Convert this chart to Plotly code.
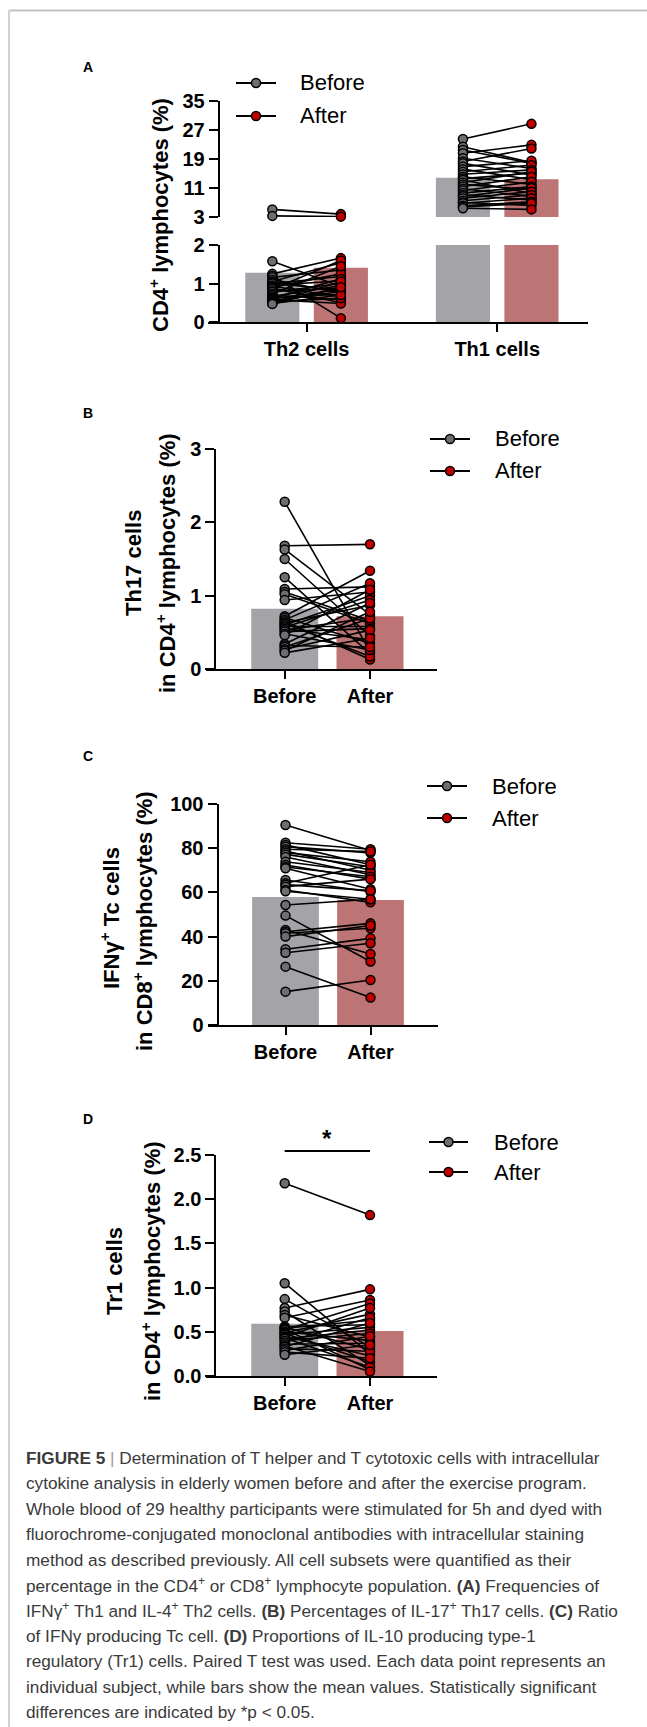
import plotly.graph_objects as go

W, H = 647, 1727


def fx(p):
    return p / W


def fy(p):
    return 1 - p / H


FONT = "Liberation Sans, Arial, sans-serif"
GRAY_BAR = "#a4a3a8"
RED_BAR = "#bc7474"
GRAY_PT = "#6e6e6e"
RED_PT = "#c00000"

# ---------------- data ----------------
# Panel A (Th2 / Th1, % of CD4+ lymphocytes)
cats_A = ["Th2 cells", "Th1 cells"]
mean_before_A = [1.28, 13.8]
mean_after_A = [1.41, 13.4]
th2_before = [1.58, 1.25, 1.20, 1.16, 1.10, 1.05, 1.02, 1.00, 0.95, 0.93, 0.90, 0.88, 0.85, 0.80,
              0.78, 0.73, 0.70, 0.66, 0.63, 0.62, 0.60, 0.58, 0.55, 0.52, 0.50, 0.48, 0.47, 5.1, 3.3]
th2_after = [0.92, 1.66, 0.10, 1.35, 0.75, 1.54, 0.80, 1.18, 1.07, 0.66, 1.25, 0.50, 1.60, 0.88,
             1.00, 1.45, 0.58, 0.95, 0.72, 1.12, 0.85, 0.48, 0.79, 0.62, 1.05, 0.70, 0.90, 3.8, 3.1]
th1_before = [24.5, 22.4, 21.5, 20.6, 19.2, 18.3, 17.8, 16.9, 16.2, 15.5, 14.8, 14.1, 13.6, 13.2, 12.5,
              12.0, 11.4, 10.8, 10.3, 9.6, 9.1, 8.7, 8.2, 7.5, 7.0, 6.8, 6.1, 5.8, 5.4]
th1_after = [28.7, 18.0, 17.8, 22.9, 16.4, 21.9, 14.6, 18.5, 13.3, 17.3, 16.0, 12.0, 15.1, 9.5, 15.5,
             10.6, 14.1, 8.7, 12.7, 11.4, 7.7, 11.0, 10.0, 9.1, 6.2, 8.2, 7.2, 6.8, 5.1]

# Panel B (Th17)
mean_B = [0.82, 0.72]
th17_before = [2.28, 1.68, 1.63, 1.50, 1.25, 1.09, 1.05, 1.02, 0.94, 0.72, 0.70, 0.67, 0.65, 0.63, 0.62,
               0.60, 0.58, 0.57, 0.55, 0.53, 0.51, 0.48, 0.46, 0.34, 0.32, 0.30, 0.27, 0.25, 0.22]
th17_after = [0.24, 1.70, 0.74, 0.45, 0.21, 1.12, 0.66, 0.62, 1.05, 1.34, 0.35, 1.17, 0.13, 0.87, 0.17,
              1.00, 0.58, 0.94, 0.40, 0.70, 0.55, 0.26, 1.08, 0.90, 0.30, 0.69, 0.53, 0.78, 0.42]

# Panel C (IFNγ+ Tc)
mean_C = [57.9, 56.6]
tc_before = [90.5, 82.5, 81.5, 80.7, 79.5, 78.7, 78.0, 77.2, 76.0, 73.9, 72.4, 71.5, 70.9, 65.6, 64.1,
             63.5, 62.6, 61.1, 60.5, 54.3, 49.5, 43.0, 42.2, 41.5, 40.0, 34.3, 32.7, 26.4, 15.1]
tc_after = [79.0, 79.5, 72.5, 77.9, 78.5, 70.0, 73.9, 71.6, 68.0, 69.0, 66.0, 67.1, 61.4, 60.3, 72.5,
            60.8, 66.0, 55.5, 56.9, 56.9, 28.7, 32.1, 46.0, 43.8, 45.0, 39.2, 37.0, 12.4, 20.4]

# Panel D (Tr1)
mean_D = [0.59, 0.51]
tr1_before = [2.18, 1.05, 0.87, 0.77, 0.73, 0.69, 0.66, 0.56, 0.55, 0.54, 0.53, 0.52, 0.50, 0.49, 0.48,
              0.47, 0.45, 0.44, 0.43, 0.42, 0.40, 0.38, 0.36, 0.34, 0.33, 0.31, 0.29, 0.27, 0.24]
tr1_after = [1.82, 0.25, 0.33, 0.98, 0.12, 0.44, 0.86, 0.58, 0.30, 0.63, 0.07, 0.82, 0.40, 0.70, 0.16,
             0.55, 0.23, 0.77, 0.10, 0.52, 0.48, 0.66, 0.37, 0.05, 0.60, 0.28, 0.45, 0.20, 0.35]

groups = ["Before", "After"]

caption_lines = [
    "<b>FIGURE 5</b> <span style='color:#9a9a9a'>|</span> Determination of T helper and T cytotoxic cells with intracellular",
    "cytokine analysis in elderly women before and after the exercise program.",
    "Whole blood of 29 healthy participants were stimulated for 5h and dyed with",
    "fluorochrome-conjugated monoclonal antibodies with intracellular staining",
    "method as described previously. All cell subsets were quantified as their",
    "percentage in the CD4<sup>+</sup> or CD8<sup>+</sup> lymphocyte population. <b>(A)</b> Frequencies of",
    "IFNγ<sup>+</sup> Th1 and IL-4<sup>+</sup> Th2 cells. <b>(B)</b> Percentages of IL-17<sup>+</sup> Th17 cells. <b>(C)</b> Ratio",
    "of IFNγ producing Tc cell. <b>(D)</b> Proportions of IL-10 producing type-1",
    "regulatory (Tr1) cells. Paired T test was used. Each data point represents an",
    "individual subject, while bars show the mean values. Statistically significant",
    "differences are indicated by *p &lt; 0.05.",
]

# ---------------- figure ----------------
fig = go.Figure()

BARGAP = 0.281
BARGROUPGAP = 0.21
half_slot = (1 - BARGAP) / 4  # offset of each bar centre from the category centre


def pair_xy(xb, xa, before, after):
    xs, ys = [], []
    for b, a in zip(before, after):
        xs += [xb, xa, None]
        ys += [b, a, None]
    return xs, ys


def marker(color):
    return dict(size=9, color=color, line=dict(color="black", width=1.5))


LINE = dict(color="black", width=1.6)

# ---- Panel A bars (lower and upper segment) ----
for ya in ["y", "y2"]:
    fig.add_trace(go.Bar(x=[0, 1], y=mean_before_A, marker_color=GRAY_BAR, offsetgroup="b",
                         xaxis="x", yaxis=ya, showlegend=False, hoverinfo="skip"))
    fig.add_trace(go.Bar(x=[0, 1], y=mean_after_A, marker_color=RED_BAR, offsetgroup="a",
                         xaxis="x", yaxis=ya, showlegend=False, hoverinfo="skip"))

# Panel A points: split by axis segment
for ci, (bef, aft) in enumerate([(th2_before, th2_after), (th1_before, th1_after)]):
    xb, xa = ci - half_slot, ci + half_slot
    for ya, sel in [("y", lambda v: v <= 2.5), ("y2", lambda v: v > 2.5)]:
        pb = [b for b, a in zip(bef, aft) if sel(b)]
        pa = [a for b, a in zip(bef, aft) if sel(b)]
        if not pb:
            continue
        lx, ly = pair_xy(xb, xa, pb, pa)
        fig.add_trace(go.Scatter(x=lx, y=ly, mode="lines", line=LINE, xaxis="x", yaxis=ya,
                                 showlegend=False, hoverinfo="skip", cliponaxis=False))
        fig.add_trace(go.Scatter(x=[xb] * len(pb), y=pb, mode="markers", marker=marker(GRAY_PT),
                                 xaxis="x", yaxis=ya, showlegend=False, cliponaxis=False))
        fig.add_trace(go.Scatter(x=[xa] * len(pa), y=pa, mode="markers", marker=marker(RED_PT),
                                 xaxis="x", yaxis=ya, showlegend=False, cliponaxis=False))

# ---- Panels B, C, D ----
panels = [
    ("x2", "y3", mean_B, th17_before, th17_after),
    ("x3", "y4", mean_C, tc_before, tc_after),
    ("x4", "y5", mean_D, tr1_before, tr1_after),
]
for xa_, ya_, means, bef, aft in panels:
    fig.add_trace(go.Bar(x=groups, y=means, marker_color=[GRAY_BAR, RED_BAR], width=0.785,
                         xaxis=xa_, yaxis=ya_, showlegend=False, hoverinfo="skip"))
    lx, ly = pair_xy(groups[0], groups[1], bef, aft)
    fig.add_trace(go.Scatter(x=lx, y=ly, mode="lines", line=LINE, xaxis=xa_, yaxis=ya_,
                             showlegend=False, hoverinfo="skip", cliponaxis=False))
    fig.add_trace(go.Scatter(x=[groups[0]] * len(bef), y=bef, mode="markers", marker=marker(GRAY_PT),
                             xaxis=xa_, yaxis=ya_, showlegend=False, cliponaxis=False))
    fig.add_trace(go.Scatter(x=[groups[1]] * len(aft), y=aft, mode="markers", marker=marker(RED_PT),
                             xaxis=xa_, yaxis=ya_, showlegend=False, cliponaxis=False))

TICKFONT = dict(family=FONT, size=20, color="black", weight="bold")
common = dict(showline=True, linecolor="black", linewidth=2, ticks="outside", ticklen=9,
              tickwidth=2, tickcolor="black", showgrid=False, zeroline=False,
              tickfont=TICKFONT, fixedrange=True, automargin=False)


def xdom(left_px, yaxis_px, first_tick_px, right_px, last_tick_px, step_px):
    """x domain starting at the y-tick end, with the category scale kept."""
    lo = -(first_tick_px - left_px) / step_px
    hi = 1 + (right_px - last_tick_px) / step_px
    return [fx(left_px), fx(right_px)], [lo, hi]


domA, rngA = xdom(208, 218.7, 306.6, 588, 497.2, 190.6)
domB, rngB = xdom(206, 215.4, 284.7, 437.4, 370.0, 85.3)
domC, rngC = xdom(207.5, 217.5, 285.5, 438, 370.5, 85.0)
domD, rngD = xdom(206, 215.4, 284.7, 437.4, 370.0, 85.3)

fig.update_layout(
    template="none",
    width=W, height=H, margin=dict(l=0, r=0, t=0, b=0, pad=0, autoexpand=False),
    paper_bgcolor="white", plot_bgcolor="white",
    barmode="group", bargap=BARGAP, bargroupgap=BARGROUPGAP,
    showlegend=False,
    xaxis=dict(common, domain=domA, range=rngA, anchor="y",
               tickmode="array", tickvals=[0, 1], ticktext=cats_A, ticklen=8),
    yaxis=dict(common, domain=[fy(322), fy(245)], range=[0, 2], anchor="free", position=fx(218.7),
               tickmode="array", tickvals=[0, 1, 2]),
    yaxis2=dict(common, domain=[fy(217), fy(101)], range=[3, 35], anchor="free", position=fx(218.7),
                tickmode="array", tickvals=[3, 11, 19, 27, 35]),
    xaxis2=dict(common, domain=domB, range=rngB, anchor="y3",
                type="category", categoryorder="array", categoryarray=groups, ticklen=8),
    yaxis3=dict(common, domain=[fy(669), fy(449)], range=[0, 3], anchor="free", position=fx(215.4),
                dtick=1),
    xaxis3=dict(common, domain=domC, range=rngC, anchor="y4",
                type="category", categoryorder="array", categoryarray=groups, ticklen=8),
    yaxis4=dict(common, domain=[fy(1025), fy(804)], range=[0, 100], anchor="free", position=fx(217.5),
                dtick=20),
    xaxis4=dict(common, domain=domD, range=rngD, anchor="y5",
                type="category", categoryorder="array", categoryarray=groups, ticklen=8),
    yaxis5=dict(common, domain=[fy(1376), fy(1155)], range=[0, 2.5], anchor="free", position=fx(215.4),
                dtick=0.5, tickformat=".1f"),
)

shapes = [
    # page frame lines
    dict(type="line", xref="paper", yref="paper", x0=fx(9), x1=1, y0=fy(10.5), y1=fy(10.5),
         line=dict(color="#c2c2c2", width=2)),
    dict(type="line", xref="paper", yref="paper", x0=fx(9), x1=fx(9), y0=fy(10), y1=0,
         line=dict(color="#d2d2d2", width=2)),
    # significance bar panel D
    dict(type="line", xref="x4", yref="paper", x0=0, x1=1, y0=fy(1151), y1=fy(1151),
         line=dict(color="black", width=2)),
]

ann = []
LEGFONT = dict(family=FONT, size=22, color="black")
# legends: (line start, line end, text start, y Before, y After) in page pixels
legend_specs = [(236, 276, 298, 83, 116), (430, 470, 493, 439, 471),
                (427, 467, 490, 786, 818), (429, 468, 492, 1142, 1172)]
R = 4.5
for x0, x1, xt, yb, ya in legend_specs:
    cx = (x0 + x1) / 2
    for name, col, yy in [(groups[0], GRAY_PT, yb), (groups[1], RED_PT, ya)]:
        shapes.append(dict(type="line", xref="paper", yref="paper", x0=fx(x0), x1=fx(x1),
                           y0=fy(yy), y1=fy(yy), line=dict(color="black", width=2)))
        shapes.append(dict(type="circle", xref="paper", yref="paper", x0=fx(cx - R), x1=fx(cx + R),
                           y0=fy(yy + R), y1=fy(yy - R), fillcolor=col,
                           line=dict(color="black", width=1.5)))
        ann.append(dict(text=name, x=fx(xt), y=fy(yy), xref="paper", yref="paper", showarrow=False,
                        xanchor="left", yanchor="middle", font=LEGFONT))
fig.update_layout(shapes=shapes)

TITLEFONT = dict(family=FONT, size=22, color="black", weight="bold")
# panel letters
for letter, py in zip("ABCD", [67, 413, 756, 1119]):
    ann.append(dict(text=f"<b>{letter}</b>", x=fx(88), y=fy(py), xref="paper", yref="paper",
                    showarrow=False, xanchor="center", yanchor="middle",
                    font=dict(family=FONT, size=14, color="black")))
# y-axis titles
ytitles = [
    ("CD4<sup>+</sup> lymphocytes (%)", 159, 215),
    ("Th17 cells", 133, 563),
    ("in CD4<sup>+</sup> lymphocytes (%)", 166, 563),
    ("IFNγ<sup>+</sup> Tc cells", 110, 918),
    ("in CD8<sup>+</sup> lymphocytes (%)", 143, 921),
    ("Tr1 cells", 114, 1271),
    ("in CD4<sup>+</sup> lymphocytes (%)", 151, 1271),
]
for txt, px, py in ytitles:
    ann.append(dict(text=txt, x=fx(px), y=fy(py), xref="paper", yref="paper", textangle=-90,
                    showarrow=False, xanchor="center", yanchor="middle", font=TITLEFONT))
# significance star
ann.append(dict(text="*", x=0.5, xref="x4", y=fy(1138), yref="paper", showarrow=False,
                xanchor="center", yanchor="middle",
                font=dict(family=FONT, size=24, color="black", weight="bold")))
# caption
for i, line in enumerate(caption_lines):
    ann.append(dict(text=line, x=fx(24), y=fy(1458 + i * 25.4), xref="paper", yref="paper",
                    showarrow=False, xanchor="left", yanchor="middle", align="left",
                    font=dict(family=FONT, size=17.2, color="#3a3a3a")))
fig.update_layout(annotations=ann)

PIN = ("document.documentElement.style.margin='0';document.body.style.margin='0';"
       "document.body.style.overflow='hidden';"
       "var gd=document.querySelector('.plotly-graph-div');"
       "gd.style.position='fixed';gd.style.left='0px';gd.style.top='0px';")

fig.write_html("out.html", config={"displayModeBar": False, "staticPlot": True}, post_script=PIN)
